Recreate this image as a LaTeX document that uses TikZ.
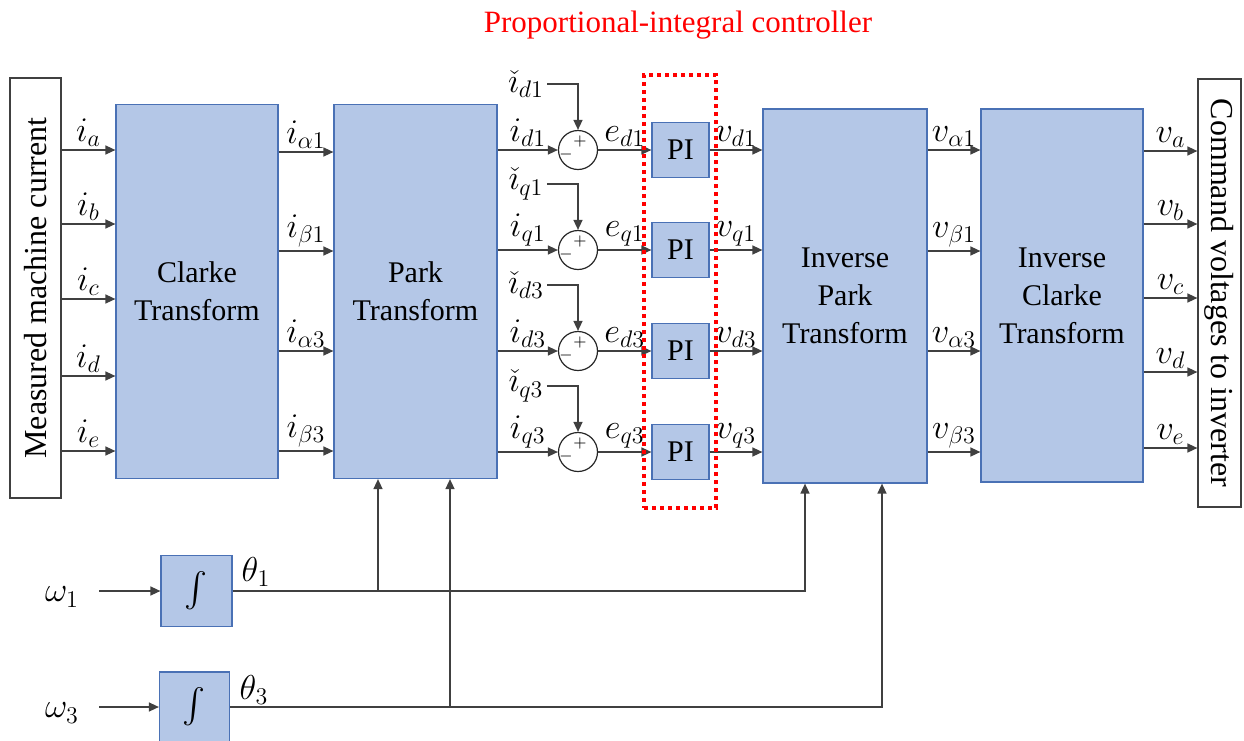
\documentclass[tikz,border=0pt]{standalone}
\usepackage{amsmath}
\usepackage{exscale}
\usepackage{fontspec}
\setmainfont{Liberation Serif}
\newfontfamily\tnr{Liberation Serif}
\usetikzlibrary{positioning,arrows.meta}
\definecolor{blkfill}{HTML}{B4C7E7}
\definecolor{blkline}{HTML}{4A71B5}
\definecolor{wirecol}{HTML}{404040}

\begin{document}
\begin{tikzpicture}[x=0.5pt,y=-0.5pt,>={Triangle[length=5pt,width=4.5pt]},
  blk/.style={draw=blkline,fill=blkfill,line width=0.6pt,align=center,inner sep=0pt,font=\tnr\fontsize{15}{19}\selectfont},
  side/.style={draw=black!75,line width=0.6pt,inner sep=0pt},
  sidetxt/.style={font=\tnr\fontsize{16}{19}\selectfont,inner sep=0pt},
  wire/.style={draw=wirecol,line width=0.75pt},
  lbl/.style={font=\fontsize{17}{20}\selectfont,inner sep=1.5pt},
  sumnode/.style={circle,draw=black!85,line width=0.6pt,minimum size=19.5pt,inner sep=0pt},
  sign/.style={font=\fontsize{8}{8}\selectfont,inner sep=0pt}]
\useasboundingbox (0,0) rectangle (1244,740);

% main blocks
\node[side,minimum width=25.5pt,minimum height=210pt,
  label={[name=meastxt,sidetxt,rotate=90]center:Measured machine current}] (meas) at (35.5,288) {};
\node[blk,minimum width=81pt,minimum height=187pt] (clarke) at (197,291.5) {Clarke\\Transform};
\node[blk,minimum width=81.5pt,minimum height=187pt] (park) at (415.5,291.5) {Park\\Transform};
\node[blk,minimum width=82pt,minimum height=187pt] (ipark) at (845,296) {Inverse\\Park\\Transform};
\node[blk,minimum width=81pt,minimum height=186.5pt] (iclarke) at (1062,295.5) {Inverse\\Clarke\\Transform};
\node[side,minimum width=21.5pt,minimum height=214pt,
  label={[name=cmdtxt,sidetxt,rotate=-90]center:Command voltages to inverter}] (cmd) at (1219.5,293) {};

% measured currents
\foreach \y/\n in {150/a,224/b,299/c,376/d,451/e}
  \draw[wire,->] (meas.east |- 0,\y) -- node[lbl,above] {$i_{\n}$} (clarke.west |- 0,\y);

% Clarke -> Park
\foreach \y/\n in {152/\alpha 1,251/\beta 1,351/\alpha 3,451/\beta 3}
  \draw[wire,->] (clarke.east |- 0,\y) -- node[lbl,above] {$i_{\n}$} (park.west |- 0,\y);

% error and PI rows
\foreach \k/\y/\s in {1/150/d1,2/250/q1,3/351/d3,4/452/q3}{
  \node[sumnode] (s\k) at (578,\y) {};
  \node[sign] (plus\k) at (580,\y-9) {$+$};
  \node[sign] (minus\k) at (566,\y+4) {$-$};
  \node[blk,minimum width=28.5pt,minimum height=27.5pt] (pi\k) at (680.5,\y) {PI};
  \node[lbl] (r\k) at (526,\y-66) {$\check{\imath}_{\s}$};
  \draw[wire,->] (r\k.east) -| (s\k.north);
  \draw[wire,->] (park.east |- s\k) -- node[lbl,above] {$i_{\s}$} (s\k.west);
  \draw[wire,->] (s\k.east) -- node[lbl,above] {$e_{\s}$} (pi\k.west);
  \draw[wire,->] (pi\k.east) -- node[lbl,above] {$v_{\s}$} (ipark.west |- pi\k);
}

% inverse Park -> inverse Clarke
\foreach \y/\n in {150/\alpha 1,251/\beta 1,351/\alpha 3,452/\beta 3}
  \draw[wire,->] (ipark.east |- 0,\y) -- node[lbl,above] {$v_{\n}$} (iclarke.west |- 0,\y);

% command voltages
\foreach \y/\n in {151/a,224/b,298/c,372/d,448/e}
  \draw[wire,->] (iclarke.east |- 0,\y) -- node[lbl,above] {$v_{\n}$} (cmd.west |- 0,\y);

% angle integrators
\node[blk,minimum size=35.5pt,font=\fontsize{17}{20}\selectfont] (int1) at (196.5,591) {$\int$};
\node[blk,minimum size=35pt,font=\fontsize{17}{20}\selectfont] (int2) at (194.5,707) {$\int$};
\node[lbl] (w1) at (62,597) {$\omega_1$};
\node[lbl] (w3) at (62,713) {$\omega_3$};
\coordinate (w1in) at (99,591);
\coordinate (w3in) at (99,707);
\draw[wire,->] (w1in) -- (int1.west);
\draw[wire,->] (w3in) -- (int2.west);
\node[lbl] (th1) at (256,572) {$\theta_1$};
\node[lbl] (th3) at (254,690) {$\theta_3$};
\coordinate (j1) at (378,591);
\coordinate (j3) at (450,707);
\draw[wire,->] (int1.east) -| (ipark.south -| 805,0);
\draw[wire,->] (j1) -- (park.south -| j1);
\draw[wire,->] (int2.east) -| (ipark.south -| 882,0);
\draw[wire,->] (j3) -- (park.south -| j3);

% PI group
\node[draw=red,line width=2pt,dash pattern=on 2pt off 2pt,minimum width=36pt,minimum height=216.5pt,inner sep=0pt] (pigroup) at (680,291.5) {};
\node[text=red,font=\tnr\fontsize{15.5}{18}\selectfont] (title) at (678,25) {Proportional-integral controller};
\end{tikzpicture}
\end{document}
